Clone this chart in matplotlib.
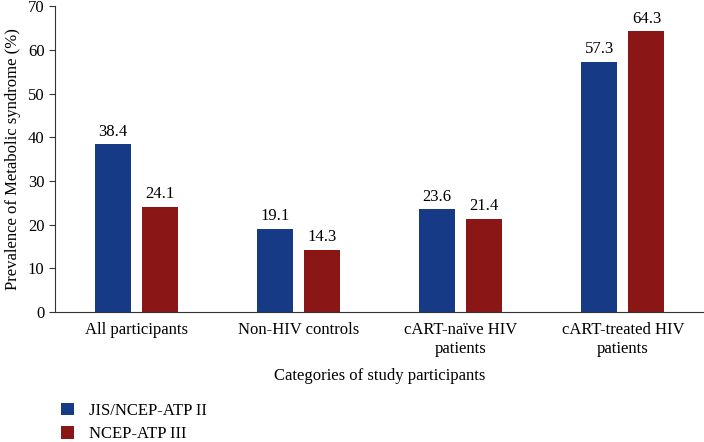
import matplotlib.pyplot as plt
import numpy as np

plt.rcParams['font.family'] = ['Liberation Serif', 'DejaVu Serif']

categories = ["All participants", "Non-HIV controls", "cART-naïve HIV\npatients", "cART-treated HIV\npatients"]
jis = [38.4, 19.1, 23.6, 57.3]
ncep = [24.1, 14.3, 21.4, 64.3]
series_names = ["JIS/NCEP-ATP II", "NCEP-ATP III"]

blue = "#173a86"
red = "#8a1616"

fig = plt.figure(figsize=(7.04, 4.42), dpi=100)
ax = fig.add_axes([0.078, 0.294, 0.922, 0.692])

x = np.arange(len(categories))
w = 0.222
b1 = ax.bar(x - 0.145, jis, w, color=blue, label=series_names[0])
b2 = ax.bar(x + 0.145, ncep, w, color=red, label=series_names[1])

for bars, vals in [(b1, jis), (b2, ncep)]:
    for r, v in zip(bars, vals):
        ax.text(r.get_x() + r.get_width() / 2, v + 1, f"{v:.1f}",
                ha="center", va="bottom", fontsize=12)

ax.set_xlim(-0.5, 3.5)
ax.set_ylim(0, 70)
ax.set_yticks(range(0, 71, 10))
ax.set_xticks(x)
ax.set_xticklabels(categories, fontsize=12, linespacing=1.25)
ax.tick_params(axis="x", length=0, pad=7)
ax.tick_params(axis="y", labelsize=12, length=4, color="#333333")
for s in ["top", "right"]:
    ax.spines[s].set_visible(False)
ax.spines["left"].set_color("#333333")
ax.spines["bottom"].set_color("#333333")

ax.set_ylabel("Prevalence of Metabolic syndrome (%)", fontsize=12, labelpad=5)
ax.set_xlabel("Categories of study participants", fontsize=12, labelpad=8)

fig.legend(handles=[b1, b2], loc="lower left", bbox_to_anchor=(0.065, -0.035),
           frameon=False, fontsize=12, handlelength=0.8, handleheight=0.8,
           labelspacing=0.45, handletextpad=0.9)

fig.savefig("out.png", dpi=100)
